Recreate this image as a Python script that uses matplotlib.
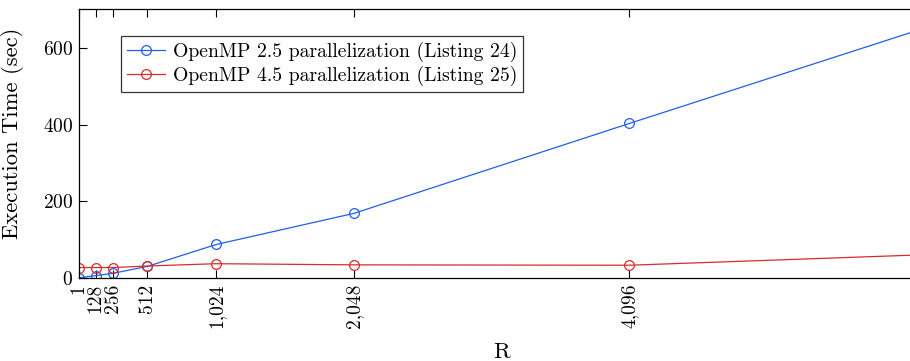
import matplotlib
matplotlib.use("Agg")
import matplotlib.pyplot as plt

R = [1, 128, 256, 512, 1024, 2048, 4096, 8192]
omp25 = [1, 7, 13, 31, 88, 169, 403, 866]
omp45 = [28, 28, 28, 32, 38, 35, 34, 85]
xtick_vals = [1, 128, 256, 512, 1024, 2048, 4096]
xtick_labels = ["1", "128", "256", "512", "1,024", "2,048", "4,096"]
ytick_vals = [0, 200, 400, 600]

plt.rcParams['font.family'] = ['cmr10', 'DejaVu Serif']
plt.rcParams['mathtext.fontset'] = 'cm'
plt.rcParams['axes.formatter.use_mathtext'] = True

fig = plt.figure(figsize=(9.10, 3.61), dpi=100)
ax = fig.add_axes([78.7/910, (361-278.3)/361, (910-78.7)/910 + 0.01, (278.3-9.3)/361])

blue = '#1f5fe8'
red = '#d92b2b'
ax.plot(R, omp25, color=blue, lw=0.9, marker='o', ms=7, mfc='none', mec=blue, mew=0.9,
        label='OpenMP 2.5 parallelization (Listing 24)', clip_on=True)
ax.plot(R, omp45, color=red, lw=0.9, marker='o', ms=7, mfc='none', mec=red, mew=0.9,
        label='OpenMP 4.5 parallelization (Listing 25)', clip_on=True)

ax.set_xlim(1, 6250)
ax.set_ylim(0, 700)
ax.set_xticks(xtick_vals)
ax.set_xticklabels(xtick_labels, rotation=90)
ax.set_yticks(ytick_vals)
ax.tick_params(direction='in', length=6, width=0.8, top=True, right=True, labelsize=14, pad=4)
for s in ax.spines.values():
    s.set_linewidth(0.9)

ax.set_ylabel('Execution Time (sec)', fontsize=16.3)
ax.yaxis.set_label_coords(-(78.7 - 25) / 831.3, (278.3 - 133) / 269)
ax.set_xlabel('R', fontsize=16.3)
ax.xaxis.set_label_coords((497 - 78.7) / 831.3, -(342 - 278.3) / 269)

leg = ax.legend(loc='upper left', bbox_to_anchor=((121 - 78.7) / 831.3, (278.3 - 36) / 269),
                fontsize=14.2, frameon=True,
                fancybox=False, edgecolor='black', handlelength=1.9, handletextpad=0.4,
                borderpad=0.3, labelspacing=0.2, borderaxespad=0)
leg.get_frame().set_linewidth(0.9)

fig.savefig('out.png', dpi=100)
